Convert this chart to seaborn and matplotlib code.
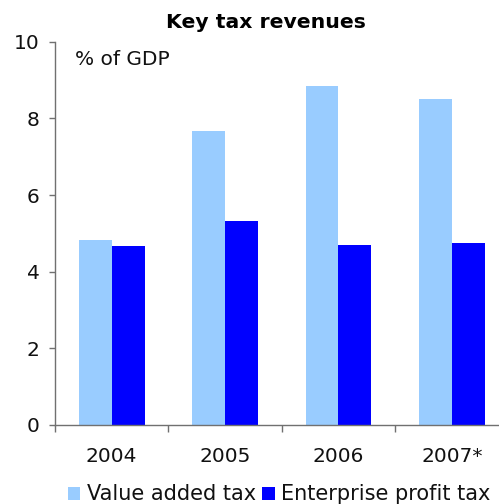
import matplotlib
matplotlib.use("Agg")
import matplotlib.pyplot as plt
from matplotlib.patches import Patch
import seaborn as sns
import pandas as pd

years = ["2004", "2005", "2006", "2007*"]
vat = [4.83, 7.68, 8.85, 8.51]
profit_tax = [4.67, 5.33, 4.70, 4.75]
series_names = ["Value added tax", "Enterprise profit tax"]
colors = ["#99CCFF", "#0000FF"]

df = pd.DataFrame({
    "year": years * 2,
    "value": vat + profit_tax,
    "series": [series_names[0]] * len(years) + [series_names[1]] * len(years),
})

sns.set_theme(style="white")
plt.rcParams["font.family"] = ["DejaVu Sans"]

fig = plt.figure(figsize=(4.99, 5.04), dpi=100)
ax = fig.add_axes([55 / 499, 79 / 504, 453.5 / 499, 383.3 / 504])

sns.barplot(data=df, x="year", y="value", hue="series", hue_order=series_names,
            palette=colors, width=0.58, gap=0, saturation=1, ax=ax, legend=False,
            errorbar=None, linewidth=0, edgecolor="none")

ax.set_xlim(-0.5, 3.5)
ax.set_ylim(0, 10)
ax.set_yticks([0, 2, 4, 6, 8, 10])
ax.set_xlabel("")
ax.set_ylabel("")

for side in ["top", "right"]:
    ax.spines[side].set_visible(False)
for side in ["left", "bottom"]:
    ax.spines[side].set_color("#707070")
    ax.spines[side].set_linewidth(1.0)

ax.tick_params(axis="y", which="major", left=True, length=4, width=1, color="#707070",
               pad=7, labelsize=14.5, labelcolor="#111111")
ax.tick_params(axis="x", which="major", bottom=False, length=0, pad=16,
               labelsize=14.5, labelcolor="#111111")
ax.set_xticks([-0.5, 0.5, 1.5, 2.5, 3.5], minor=True)
ax.tick_params(axis="x", which="minor", bottom=True, length=5, width=1, color="#707070")

fig.text(266 / 499, 1 - 23 / 504, "Key tax revenues", ha="center", va="center",
         fontsize=14.7, fontweight="bold", color="#000000")
ax.text(20 / 453.5, 1 - (60 - 41.7) / 383.3, "% of GDP",
        transform=ax.transAxes, ha="left", va="center", fontsize=14.5, color="#111111")

handles = [Patch(facecolor=c, edgecolor="none") for c in colors]
fig.legend(handles, series_names, loc="center", bbox_to_anchor=(279 / 499, 1 - 494.5 / 504),
           ncol=2, frameon=False, fontsize=15, handlelength=0.6, handleheight=0.6,
           handletextpad=0.3, columnspacing=0.3, borderaxespad=0, borderpad=0,
           labelcolor="#111111")

fig.savefig("out.png", dpi=100)
